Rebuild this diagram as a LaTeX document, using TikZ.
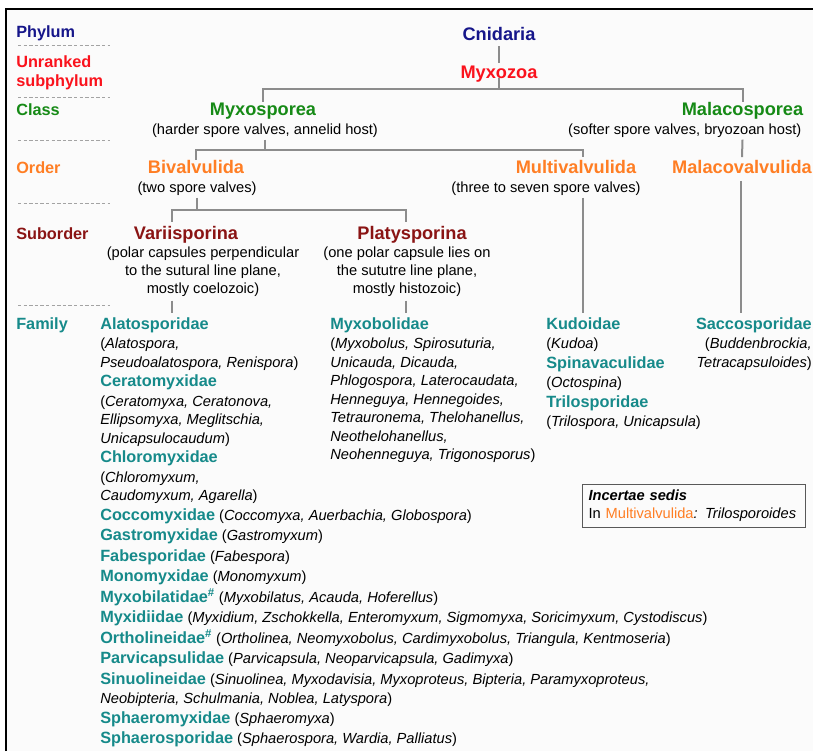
\documentclass[tikz,border=0pt]{standalone}
\usepackage{fontspec}
\setmainfont{Liberation Sans}
\usetikzlibrary{positioning,calc}

\definecolor{phylum}{RGB}{22,22,138}
\definecolor{unranked}{RGB}{250,18,28}
\definecolor{class}{RGB}{22,138,22}
\definecolor{order}{RGB}{255,126,36}
\definecolor{suborder}{RGB}{138,20,20}
\definecolor{family}{RGB}{22,138,138}
\definecolor{branchgray}{RGB}{140,140,140}
\definecolor{paper}{RGB}{251,251,251}

\newcommand{\famname}[1]{{\fontsize{12.2}{14}\selectfont\bfseries\color{family}#1}}
\newcommand{\gen}[1]{\textit{#1}}

\begin{document}
\begin{tikzpicture}[
x=0.75pt,
y=-0.75pt,
rank/.style={
  anchor=base west,
  inner sep=0pt,
  font=\fontsize{12.2}{14.25}\selectfont\bfseries
  },
taxon/.style={
  anchor=base,
  inner sep=0pt,
  font=\fontsize{13.65}{16}\selectfont\bfseries
  },
desc/.style={
  anchor=base,
  inner sep=0pt,
  outer sep=2pt,
  align=center,
  font=\fontsize{11}{13.5}\selectfont
  },
fam/.style={
  anchor=base west,
  inner sep=0pt,
  font=\fontsize{11}{13.5}\selectfont
  },
branch/.style={
  draw=branchgray,
  line width=1.5pt
  },
sep/.style={
  draw=branchgray!80,
  line width=0.7pt,
  dash pattern=on 2.6pt off 1.6pt
  },
note/.style={
  draw=black!65,
  line width=0.75pt,
  anchor=north west,
  align=left,
  text width=158pt,
  minimum height=32.5pt,
  inner xsep=4.5pt,
  inner ysep=0pt,
  font=\fontsize{11}{13.5}\selectfont
  }
]
\useasboundingbox (0,0) rectangle (813,751);
\fill[white] (0,0) rectangle (813,751);
\fill[paper] (6,9) rectangle (813,751);
\draw[black, line width=1.5pt] (6,751) -- (6,9) -- (813,9);

\node[rank, text=phylum] (rphyl) at (16,37) {Phylum};
\node[rank, text=unranked, anchor=north west, align=left] (runr) at (16,55) {Unranked\\subphylum};
\node[rank, text=class] (rclass) at (16,115.5) {Class};
\node[rank, text=order] (rorder) at (16,173.5) {Order};
\node[rank, text=suborder] (rsub) at (16,239.5) {Suborder};
\node[rank, text=family] (rfam) at (16,329) {Family};

\foreach \y in {45,97,140,203,305}
  \draw[sep] (18,\y) -- (110,\y);

\node[taxon, text=phylum] (cnid) at (499,40) {Cnidaria};
\node[taxon, text=unranked] (myxoz) at (499,78) {Myxozoa};

\node[taxon, text=class] (myxosp) at (263,115) {Myxosporea};
\node[desc] (dmyxosp) at (265,134) {(harder spore valves, annelid host)};
\node[taxon, text=class] (malsp) at (742.5,115) {Malacosporea};
\node[desc, anchor=base east] (dmalsp) at (804,134) {(softer spore valves, bryozoan host)};

\node[taxon, text=order] (bival) at (196,173.5) {Bivalvulida};
\node[desc] (dbival) at (197,192) {(two spore valves)};
\node[taxon, text=order] (multi) at (576,173.5) {Multivalvulida};
\node[desc] (dmulti) at (546,192) {(three to seven spore valves)};
\node[taxon, text=order] (malval) at (742,173.5) {Malacovalvulida};

\node[taxon, text=suborder] (vari) at (186,239) {Variisporina};
\node[desc, anchor=north, outer sep=0pt] (dvari) at (203,247)
  {(polar capsules perpendicular\\to the sutural line plane,\\mostly coelozoic)};
\node[taxon, text=suborder] (platy) at (412,239) {Platysporina};
\node[desc, anchor=north, outer sep=0pt] (dplaty) at (407,247)
  {(one polar capsule lies on\\the sututre line plane,\\mostly histozoic)};

\foreach \y/\t [count=\i from 0] in {
  329/{\famname{Alatosporidae}},
  348.5/{(\gen{Alatospora,}},
  367/{\gen{Pseudoalatospora, Renispora})},
  386.5/{\famname{Ceratomyxidae}},
  406/{(\gen{Ceratomyxa, Ceratonova,}},
  424.5/{\gen{Ellipsomyxa, Meglitschia,}},
  443/{\gen{Unicapsulocaudum})},
  462.5/{\famname{Chloromyxidae}},
  482/{(\gen{Chloromyxum,}},
  500.5/{\gen{Caudomyxum, Agarella})},
  520/{\famname{Coccomyxidae} (\gen{Coccomyxa, Auerbachia, Globospora})},
  540.5/{\famname{Gastromyxidae} (\gen{Gastromyxum})},
  561/{\famname{Fabesporidae} (\gen{Fabespora})},
  581.5/{\famname{Monomyxidae} (\gen{Monomyxum})},
  602/{\famname{Myxobilatidae\textsuperscript{\#}} (\gen{Myxobilatus, Acauda, Hoferellus})},
  622.5/{\famname{Myxidiidae} (\gen{Myxidium, Zschokkella, Enteromyxum, Sigmomyxa, Soricimyxum, Cystodiscus})},
  643/{\famname{Ortholineidae\textsuperscript{\#}} (\gen{Ortholinea, Neomyxobolus, Cardimyxobolus, Triangula, Kentmoseria})},
  663.5/{\famname{Parvicapsulidae} (\gen{Parvicapsula, Neoparvicapsula, Gadimyxa})},
  684/{\famname{Sinuolineidae} (\gen{Sinuolinea, Myxodavisia, Myxoproteus, Bipteria, Paramyxoproteus,}},
  703.5/{\gen{Neobipteria, Schulmania, Noblea, Latyspora})},
  723/{\famname{Sphaeromyxidae} (\gen{Sphaeromyxa})},
  743.5/{\famname{Sphaerosporidae} (\gen{Sphaerospora, Wardia, Palliatus})}}
  \node[fam] (l\i) at (100,\y) {\t};

\foreach \y/\t [count=\i from 0] in {
  329/{\famname{Myxobolidae}},
  348.5/{(\gen{Myxobolus, Spirosuturia,}},
  367/{\gen{Unicauda, Dicauda,}},
  385.5/{\gen{Phlogospora, Laterocaudata,}},
  404/{\gen{Henneguya, Hennegoides,}},
  422.5/{\gen{Tetrauronema, Thelohanellus,}},
  441/{\gen{Neothelohanellus,}},
  459.5/{\gen{Neohenneguya, Trigonosporus})}}
  \node[fam] (m\i) at (330,\y) {\t};

\foreach \y/\t [count=\i from 0] in {
  329/{\famname{Kudoidae}},
  348.5/{(\gen{Kudoa})},
  368/{\famname{Spinavaculidae}},
  387.5/{(\gen{Octospina})},
  407/{\famname{Trilosporidae}},
  426.5/{(\gen{Trilospora, Unicapsula})}}
  \node[fam] (k\i) at (546,\y) {\t};

\foreach \y/\t [count=\i from 0] in {
  329/{\famname{Saccosporidae}},
  348.5/{(\gen{Buddenbrockia,}},
  367/{\gen{Tetracapsuloides})}}
  \node[fam, anchor=base east] (s\i) at (812,\y) {\t};

\node[note] (incs) at (582,484)
  {\textbf{\textit{Incertae sedis}}\\In \textcolor{order}{Multivalvulida}\gen{: Trilosporoides}};

\coordinate (lvl1) at (0,89);
\coordinate (lvl2) at (0,150);
\coordinate (lvl3) at (0,210);
\coordinate (vx) at (172,0);
\coordinate (px) at (406,0);
\coordinate (mx) at (583,0);
\coordinate (sx) at (741,0);

\draw[branch, shorten <=4.5pt, shorten >=2pt] (cnid.south) -- (myxoz.north);
\draw[branch] (myxoz.base) -- (myxoz.base |- lvl1) -| (myxosp.north);
\draw[branch] (myxoz.base |- lvl1) -| (malsp.north);

\draw[branch] (dmyxosp.south) -- (dmyxosp.south |- lvl2) -| (bival.north);
\draw[branch] (dmyxosp.south |- lvl2) -| ($(multi.north -| mx)+(0,-3)$);
\draw[branch] (dmalsp.south -| malsp) -- ($(malval.north)+(0,-3)$);

\draw[branch] (dbival.south) -- (dbival.south |- lvl3) -| ($(vari.north -| vx)+(0,-4)$);
\draw[branch] (dbival.south |- lvl3) -| ($(platy.north -| px)+(0,-4)$);

\draw[branch] ($(dvari.south -| vx)+(0,4)$) -- ($(l0.north -| vx)+(0,-4)$);
\draw[branch] ($(dplaty.south -| px)+(0,4)$) -- ($(m0.north -| px)+(0,-4)$);
\draw[branch] (dmulti.south -| mx) -- ($(k0.north -| mx)+(0,-4)$);
\draw[branch] ($(malval.south -| sx)+(0,7)$) -- ($(s0.north -| sx)+(0,-4)$);

\end{tikzpicture}
\end{document}
